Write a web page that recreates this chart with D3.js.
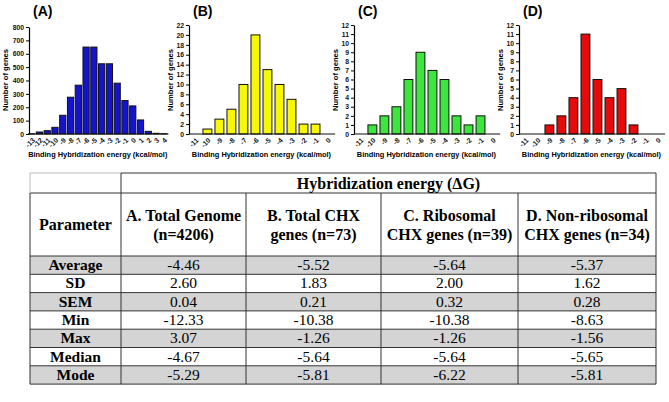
<!DOCTYPE html>
<html>
<head>
<meta charset="utf-8">
<script src="https://cdn.jsdelivr.net/npm/d3@7"></script>
<style>
  body { margin: 0; background: #fff; }
  svg { display: block; }
</style>
</head>
<body>
<div id="chart"></div>
<script>
// histogram categories (binding energy bins, kcal/mol)
const binsA = ["-13","-12","-11","-10","-9","-8","-7","-6","-5","-4","-3","-2","-1","0","1","2","3","4"];
const binsBCD = ["-11","-10","-9","-8","-7","-6","-5","-4","-3","-2","-1","0"];

// number of genes per bin
const countsA = [2, 15, 25, 50, 140, 275, 365, 650, 650, 525, 525, 380, 250, 210, 105, 20, 5, 2];
const countsB = [0, 1, 3, 5, 10, 20, 13, 10, 7, 2, 2, 0];
const countsC = [0, 1, 2, 3, 6, 9, 7, 6, 2, 1, 2, 0];
const countsD = [0, 0, 1, 2, 4, 11, 6, 4, 5, 1, 0, 0];

// y tick labels
const yTicksA = [0, 100, 200, 300, 400, 500, 600, 700, 800];
const yTicksB = [0, 2, 4, 6, 8, 10, 12, 14, 16, 18, 20, 22];
const yTicksCD = [0, 1, 2, 3, 4, 5, 6, 7, 8, 9, 10, 11, 12];

// summary table
const tableTitle = "Hybridization energy (\u0394G)";
const colHeads = [
    ["A. Total Genome", "(n=4206)"],
    ["B. Total CHX", "genes (n=73)"],
    ["C. Ribosomal", "CHX genes (n=39)"],
    ["D. Non-ribosomal", "CHX genes (n=34)"]
];
const rowLabels = ["Average", "SD", "SEM", "Min", "Max", "Median", "Mode"];
const statsA = [-4.46, 2.60, 0.04, -12.33, 3.07, -4.67, -5.29];
const statsB = [-5.52, 1.83, 0.21, -10.38, -1.26, -5.64, -5.81];
const statsC = [-5.64, 2.00, 0.32, -10.38, -1.26, -5.64, -6.22];
const statsD = [-5.37, 1.62, 0.28, -8.63, -1.56, -5.65, -5.81];

var w = 669, h = 402;
var svg = d3.select("#chart").append("svg")
    .attr("width", w)
    .attr("height", h);

var sans = "'Liberation Sans', Arial, sans-serif";
var serif = "'Liberation Serif', 'Times New Roman', serif";

// ---- histograms ----
const panels = [
    { tag: "(A)", bins: binsA, counts: countsA, ticks: yTicksA, max: 800, color: "#1414cc",
      axisX: 29, x0: 27, x1: 168.5, top: 27, pad: 0.2, titleX: 5 },
    { tag: "(B)", bins: binsBCD, counts: countsB, ticks: yTicksB, max: 22, color: "#f7f70a",
      axisX: 189, x0: 187.8, x1: 335.1, top: 25, pad: 0.26, titleX: 170 },
    { tag: "(C)", bins: binsBCD, counts: countsC, ticks: yTicksCD, max: 12, color: "#3ce63c",
      axisX: 354, x0: 352.8, x1: 500.1, top: 25, pad: 0.26, titleX: 335 },
    { tag: "(D)", bins: binsBCD, counts: countsD, ticks: yTicksCD, max: 12, color: "#e30b0b",
      axisX: 519, x0: 517.8, x1: 665.1, top: 25, pad: 0.26, titleX: 500 }
];
var base = 134;

panels.forEach(p => {
    var g = svg.append("g");

    var x = d3.scaleBand()
        .domain(p.bins)
        .range([p.x0, p.x1])
        .padding(p.pad);

    var y = d3.scaleLinear()
        .domain([0, p.max])
        .range([base, p.top]);

    // bars
    g.selectAll("rect")
        .data(p.bins.map((b, i) => ({ bin: b, n: p.counts[i] })))
        .join("rect")
        .attr("x", d => x(d.bin))
        .attr("y", d => y(d.n))
        .attr("width", x.bandwidth())
        .attr("height", d => base - y(d.n))
        .attr("fill", p.color)
        .attr("stroke", "#111")
        .attr("stroke-width", 1);

    // y axis
    var yAxis = g.append("g")
        .attr("transform", `translate(${p.axisX},0)`)
        .call(d3.axisLeft(y).tickValues(p.ticks).tickSize(3).tickSizeOuter(0).tickPadding(2));
    yAxis.selectAll("text")
        .style("font-family", sans)
        .style("font-weight", "bold")
        .style("font-size", "6.8px")
        .attr("fill", "#111");
    yAxis.select(".domain").attr("stroke-width", 1.2);

    // x axis
    var xAxis = g.append("g")
        .attr("transform", `translate(0,${base})`);
    xAxis.append("line")
        .attr("x1", p.axisX).attr("x2", p.x1)
        .attr("y1", 0).attr("y2", 0)
        .attr("stroke", "#111").attr("stroke-width", 1.2);
    xAxis.selectAll("text")
        .data(p.bins)
        .join("text")
        .attr("text-anchor", "end")
        .attr("transform", d => `translate(${x(d) + x.bandwidth() / 2 + 2},${5}) rotate(-45)`)
        .attr("dy", "0.35em")
        .style("font-family", sans)
        .style("font-weight", "bold")
        .style("font-size", "7px")
        .attr("fill", "#111")
        .text(d => d);

    // titles
    g.append("text")
        .attr("x", (p.x0 + p.x1) / 2)
        .attr("y", 157)
        .attr("text-anchor", "middle")
        .style("font-family", sans)
        .style("font-weight", "bold")
        .style("font-size", "7.4px")
        .text("Binding Hybridization energy (kcal/mol)");

    g.append("text")
        .attr("transform", `translate(${p.titleX + 2.5},80) rotate(-90)`)
        .attr("text-anchor", "middle")
        .style("font-family", sans)
        .style("font-weight", "bold")
        .style("font-size", "7.6px")
        .text("Number of genes");

    g.append("text")
        .attr("x", p.axisX + 4)
        .attr("y", 16)
        .style("font-family", sans)
        .style("font-weight", "bold")
        .style("font-size", "14px")
        .text(p.tag);
});

// ---- table ----
var colX = [30, 121, 246, 381, 518, 656];
var headTop = 173, headMid = 193, bodyTop = 256, rowH = 18.3;
var statCols = [statsA, statsB, statsC, statsD];
var tbl = svg.append("g");

// grey rows
rowLabels.forEach((r, i) => {
    if (i % 2 == 0) {
        tbl.append("rect")
            .attr("x", colX[0]).attr("y", bodyTop + i * rowH)
            .attr("width", colX[5] - colX[0]).attr("height", rowH)
            .attr("fill", "#d4d4d4");
    }
});

var bottom = bodyTop + rowLabels.length * rowH;
var lineCol = "#333";

// horizontal lines
[headMid, bodyTop].concat(rowLabels.map((r, i) => bodyTop + (i + 1) * rowH)).forEach(yy => {
    tbl.append("line")
        .attr("x1", colX[0]).attr("x2", colX[5])
        .attr("y1", yy).attr("y2", yy)
        .attr("stroke", lineCol).attr("stroke-width", 1);
});
tbl.append("line")
    .attr("x1", colX[1]).attr("x2", colX[5])
    .attr("y1", headTop).attr("y2", headTop)
    .attr("stroke", lineCol).attr("stroke-width", 1);
tbl.append("line")
    .attr("x1", colX[0]).attr("x2", colX[1])
    .attr("y1", headTop).attr("y2", headTop)
    .attr("stroke", "#bbb").attr("stroke-width", 1);

// vertical lines
colX.forEach((xx, i) => {
    var y0 = (i == 2 || i == 3 || i == 4) ? headMid : headTop;
    tbl.append("line")
        .attr("x1", xx).attr("x2", xx)
        .attr("y1", i == 0 ? headMid : y0).attr("y2", bottom)
        .attr("stroke", lineCol).attr("stroke-width", 1);
});
tbl.append("line")
    .attr("x1", colX[0]).attr("x2", colX[0])
    .attr("y1", headTop).attr("y2", headMid)
    .attr("stroke", "#bbb").attr("stroke-width", 1);

// header texts
tbl.append("text")
    .attr("x", (colX[1] + colX[5]) / 2)
    .attr("y", headTop + 15.5)
    .attr("text-anchor", "middle")
    .style("font-family", serif)
    .style("font-weight", "bold")
    .style("font-size", "16px")
    .text(tableTitle);

tbl.append("text")
    .attr("x", (colX[0] + colX[1]) / 2)
    .attr("y", 230)
    .attr("text-anchor", "middle")
    .style("font-family", serif)
    .style("font-weight", "bold")
    .style("font-size", "16px")
    .text("Parameter");

colHeads.forEach((lines, c) => {
    lines.forEach((t, k) => {
        tbl.append("text")
            .attr("x", (colX[c + 1] + colX[c + 2]) / 2)
            .attr("y", 221 + k * 19)
            .attr("text-anchor", "middle")
            .style("font-family", serif)
            .style("font-weight", "bold")
            .style("font-size", "16px")
            .text(t);
    });
});

// body texts
rowLabels.forEach((r, i) => {
    var yy = bodyTop + i * rowH + 14;
    tbl.append("text")
        .attr("x", (colX[0] + colX[1]) / 2)
        .attr("y", yy)
        .attr("text-anchor", "middle")
        .style("font-family", serif)
        .style("font-weight", "bold")
        .style("font-size", "15.5px")
        .text(r);
    statCols.forEach((col, c) => {
        tbl.append("text")
            .attr("x", (colX[c + 1] + colX[c + 2]) / 2)
            .attr("y", yy)
            .attr("text-anchor", "middle")
            .style("font-family", serif)
            .style("font-size", "15.5px")
            .text(col[i].toFixed(2));
    });
});
</script>
</body>
</html>
